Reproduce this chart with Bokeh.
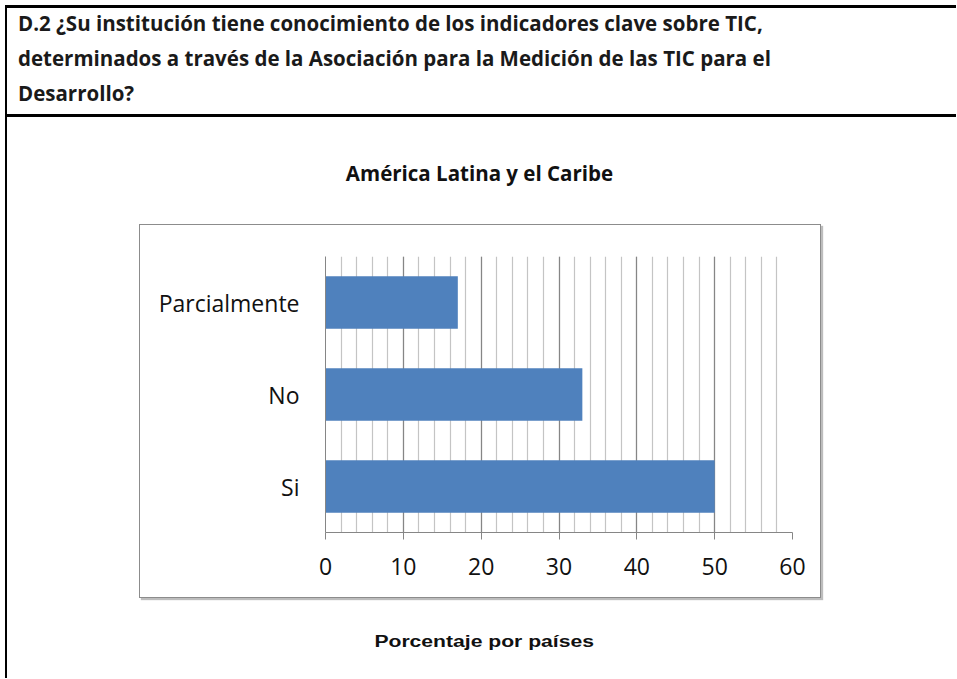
from bokeh.plotting import figure
from bokeh.models import Div, Spacer, FactorRange, Range1d, SingleIntervalTicker, ColumnDataSource
from bokeh.layouts import column, row
from bokeh.embed import file_html
from bokeh.resources import INLINE

# ---- data ----
categories = ["Si", "No", "Parcialmente"]
values = [50, 33, 17]
x_ticks = [0, 10, 20, 30, 40, 50, 60]

header_lines = [
    "D.2 ¿Su institución tiene conocimiento de los indicadores clave sobre TIC,",
    "determinados a través de la Asociación para la Medición de las TIC para el",
    "Desarrollo?",
]
chart_title = "América Latina y el Caribe"
x_label = "Porcentaje por países"

BAR = "#4f81bd"
LEFT_BORDER = {"border-left": "2px solid black", "box-sizing": "border-box"}

header = Div(
    text='<div style="font-family:\'Open Sans\';font-weight:bold;font-size:20.5px;'
         'line-height:35px;color:#1a1a1a;padding-left:11px;white-space:nowrap;'
         'position:relative;top:-2px;">' + "<br>".join(header_lines) + '</div>',
    width=951, height=112, margin=0,
    styles={"border-top": "3px solid black", "border-bottom": "3px solid black",
            "border-left": "2px solid black", "box-sizing": "border-box"},
)

title_div = Div(
    text=f'<div style="font-family:\'Open Sans\';font-weight:bold;font-size:20.5px;'
         f'color:#111;width:939px;text-align:center;position:relative;left:3px;padding-top:42px;">{chart_title}</div>',
    width=941, height=107, margin=0,
    styles=LEFT_BORDER,
)

source = ColumnDataSource(dict(cat=categories, val=values))

p = figure(
    y_range=FactorRange(*categories), x_range=Range1d(0, 60),
    width=682, height=374, output_backend="svg", toolbar_location=None,
    min_border_left=185, min_border_right=30, min_border_top=31, min_border_bottom=67,
    margin=0,
    styles={"border": "1px solid #8c8c8c", "box-shadow": "2px 2px 1px #bdbdbd", "box-sizing": "border-box"},
)
p.hbar(y="cat", right="val", height=0.57, left=0, source=source, color=BAR, line_color=None)

p.outline_line_color = None
p.background_fill_color = "white"
p.border_fill_color = "white"

p.xaxis.ticker = SingleIntervalTicker(interval=10, num_minor_ticks=5)
p.xaxis.major_label_overrides = {t: str(t) for t in x_ticks}
p.xaxis.axis_line_color = "#868686"
p.xaxis.major_tick_line_color = "#868686"
p.xaxis.major_tick_out = 7
p.xaxis.major_tick_in = 0
p.xaxis.minor_tick_line_color = None
p.xaxis.major_label_standoff = 18
p.xaxis.major_label_text_font = "Open Sans"
p.xaxis.major_label_text_font_size = "23px"
p.xaxis.major_label_text_color = "#111"

p.yaxis.axis_line_color = "#868686"
p.yaxis.major_tick_line_color = None
p.yaxis.minor_tick_line_color = None
p.yaxis.major_label_standoff = 20
p.yaxis.major_label_text_font = "Open Sans"
p.yaxis.major_label_text_font_size = "23px"
p.yaxis.major_label_text_color = "#111"

p.ygrid.grid_line_color = None
p.xgrid.grid_line_color = "#868686"
p.xgrid.minor_grid_line_color = "#c4c4c4"
p.xgrid.grid_line_width = 1.2
p.xgrid.minor_grid_line_width = 1.2

spacer = Spacer(width=134, height=374, margin=0, styles=LEFT_BORDER)
chart_row = row(spacer, p, spacing=0, margin=0)

footer = Div(
    text=f'<div style="width:939px;text-align:center;position:relative;left:8px;padding-top:33px;">'
         f'<span style="display:inline-block;font-family:\'Liberation Sans\';font-weight:bold;font-size:16px;'
         f'color:#111;transform:scaleX(1.32);">{x_label}</span></div>',
    width=941, height=80, margin=0,
    styles=LEFT_BORDER,
)

layout = column(header, title_div, chart_row, footer, spacing=0, margin=(5, 0, 0, 5))

open("out.html", "w").write(file_html(layout, INLINE))
